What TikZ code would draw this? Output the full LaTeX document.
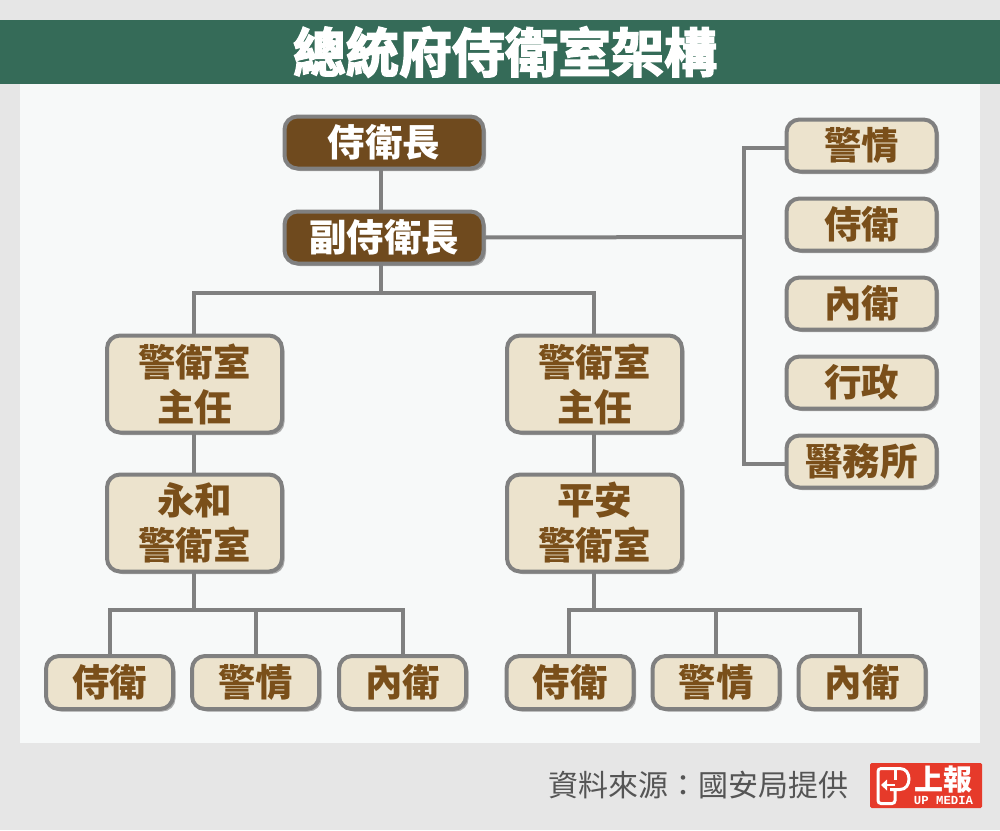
\documentclass[tikz,border=0pt]{standalone}
\usepackage{fontspec}
\setmainfont{Noto Sans CJK TC}
\newfontfamily\titlefont[FakeBold=3]{Noto Sans CJK TC Bold}
\newfontfamily\logomono{Liberation Mono}
\usetikzlibrary{shadows}
\definecolor{pagebg}{HTML}{E6E6E6}
\definecolor{panelbg}{HTML}{F7F9F9}
\definecolor{bandgreen}{HTML}{356B58}
\definecolor{boxbrown}{HTML}{6F4A1E}
\definecolor{boxcream}{HTML}{ECE3CD}
\definecolor{textbrown}{HTML}{7A4F1A}
\definecolor{linegray}{HTML}{808080}
\definecolor{shadowgray}{HTML}{ABABAB}
\definecolor{footgray}{HTML}{555555}
\definecolor{logored}{HTML}{E63A2A}
\tikzset{
  x=1pt,y=-1pt,
  basebox/.style={draw=linegray,line width=4pt,rounded corners=13pt,inner sep=0pt,outer sep=0pt,
    drop shadow={shadow xshift=2.5pt,shadow yshift=-2.5pt,fill=shadowgray,opacity=1}},
  headbox/.style={basebox,fill=boxbrown,text=white,font=\bfseries\fontsize{37.5}{40}\selectfont,
    minimum width=199pt,minimum height=52pt},
  sidebox/.style={basebox,fill=boxcream,text=textbrown,font=\bfseries\fontsize{37.5}{40}\selectfont,
    minimum width=150pt,minimum height=52pt},
  leafbox/.style={basebox,fill=boxcream,text=textbrown,font=\bfseries\fontsize{37.5}{40}\selectfont,
    minimum width=127pt,minimum height=53pt},
  midbox/.style={basebox,fill=boxcream,text=textbrown,font=\bfseries\fontsize{37.5}{45}\selectfont,
    align=center,minimum width=175pt,minimum height=97pt},
  link/.style={draw=linegray,line width=4pt,line cap=butt,line join=miter},
}
\begin{document}
\begin{tikzpicture}
\useasboundingbox (0,0) rectangle (1000,830);
\fill[pagebg] (0,0) rectangle (1000,830);
\fill[panelbg] (20,84) rectangle (980,743);
\fill[bandgreen] (0,20) rectangle (1000,84);
\node[text=white,font=\titlefont\fontsize{53}{56}\selectfont,inner sep=0pt] (title) at (505,52) {總統府侍衛室架構};

% junction coordinates
\coordinate (topfork) at (381,293);
\coordinate (sidefork) at (744,237);
\coordinate (forkL) at (194,610);
\coordinate (forkR) at (594,610);
\coordinate (chiefS) at (381,170);
\coordinate (deputyN) at (381,210);
\coordinate (deputyS) at (381,265);

\node[headbox] (chief) at (384,142.5) {侍衛長};
\node[headbox] (deputy) at (384,237.5) {副侍衛長};

\node[sidebox] (s1) at (861.5,145.5) {警情};
\node[sidebox] (s2) at (861.5,224.5) {侍衛};
\node[sidebox] (s3) at (861.5,303.5) {內衛};
\node[sidebox] (s4) at (861.5,382.5) {行政};
\node[sidebox] (s5) at (861.5,461.5) {醫務所};

\node[midbox] (mL) at (194.5,384) {警衛室\\主任};
\node[midbox] (mR) at (594.5,384) {警衛室\\主任};
\node[midbox] (uL) at (194.5,523) {永和\\警衛室};
\node[midbox] (uR) at (594.5,523) {平安\\警衛室};

\node[leafbox] (l1) at (109.5,682.5) {侍衛};
\node[leafbox] (l2) at (255.5,682.5) {警情};
\node[leafbox] (l3) at (402.5,682.5) {內衛};
\node[leafbox] (r1) at (570,682.5) {侍衛};
\node[leafbox] (r2) at (716,682.5) {警情};
\node[leafbox] (r3) at (862,682.5) {內衛};

\draw[link] (chiefS) -- (deputyN);
\draw[link] (deputyS) -- (topfork);
\draw[link] (mL.north -| 194,0) |- (topfork);
\draw[link] (mR.north -| 594,0) |- (topfork);
\draw[link] (deputy.east) -- (sidefork);
\draw[link] (s1.west |- 744,148) -- (744,148) -- (744,464) -- (s5.west |- 744,464);
\draw[link] (mL.south -| forkL) -- (uL.north -| forkL);
\draw[link] (mR.south -| forkR) -- (uR.north -| forkR);
\draw[link] (uL.south -| forkL) -- (forkL);
\draw[link] (uR.south -| forkR) -- (forkR);
\draw[link] (l1.north) |- (forkL);
\draw[link] (l2.north) -- (l2.north |- forkL);
\draw[link] (l3.north) |- (forkL);
\draw[link] (r1.north -| 569,0) |- (forkR);
\draw[link] (r2.north) -- (r2.north |- forkR);
\draw[link] (r3.north -| 860,0) |- (forkR);

% footer
\node[text=footgray,font=\fontsize{30}{32}\selectfont,anchor=east,inner sep=0pt] (source) at (849,785) {資料來源：國安局提供};

% logo
\fill[logored,rounded corners=1.5pt] (870,763) rectangle (982,808);
\draw[white,line width=3pt,rounded corners=3pt] (895,789.5) -- (895,803.5) -- (878,803.5) -- (878,768.5) -- (897,768.5) .. controls (912,768.5) and (912,789.5) .. (897,789.5) -- (890,789.5);
\draw[white,line width=3pt] (895,769) -- (895,780);
\draw[white,line width=2.5pt] (895,785) -- (885,785);
\fill[white] (881,785) -- (887,779.5) -- (887,790.5) -- cycle;
\node[text=white,font=\bfseries\fontsize{29}{30}\selectfont,inner sep=0pt] (logotext) at (943.5,780) {上報};
\node[text=white,font=\logomono\bfseries\fontsize{12.3}{13}\selectfont,inner sep=0pt] (logosub) at (943.5,800.5) {UP MEDIA};
\end{tikzpicture}
\end{document}
